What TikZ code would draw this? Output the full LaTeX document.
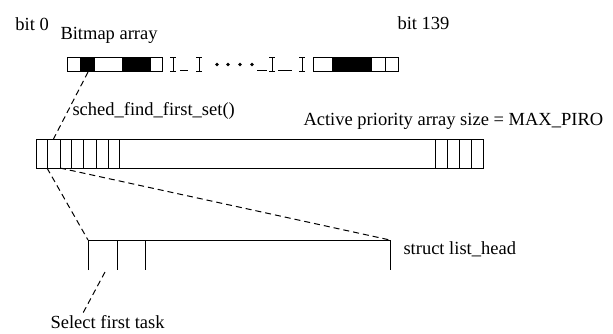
\documentclass[tikz,border=0pt]{standalone}
\usepackage{fontspec}
\setmainfont{Liberation Serif}
\begin{document}
\begin{tikzpicture}[x=1pt,y=-1pt,line width=1pt,
  lbl/.style={font=\fontsize{18.5}{20}\selectfont,inner sep=0pt,anchor=base west},
  lead/.style={dash pattern=on 6pt off 4pt},
  blk/.style={fill=black}]
\useasboundingbox (0,0) rectangle (613,333);
% ---- bitmap array ----
\draw (67,57) rectangle (162,71.5);
\fill[blk] (80,57) rectangle (95,71.5);
\fill[blk] (122,57) rectangle (150,71.5);
\draw (150,57) -- (150,71.5);
\foreach \x in {173,199,272,302}{
  \draw (\x,57) -- (\x,71.5);
  \draw (\x-3,57) -- (\x+3,57);
  \draw (\x-3,71.5) -- (\x+3,71.5);
}
\foreach \a/\b in {180/188,257/267,278/292}{
  \draw (\a,70.5) -- (\b,70.5);
}
\foreach \x in {217,228,240,252}{
  \fill (\x,64.5) circle (1.8);
}
\draw (313,57) rectangle (398,71.5);
\fill[blk] (332,57) rectangle (372,71.5);
\draw (385,57) -- (385,71.5);
\coordinate (bm) at (88,72);
% ---- active priority array ----
\draw (36,139) rectangle (483,168);
\foreach \x in {47,60,71,83,96,108,119,435,447,459,471}{
  \draw (\x,139) -- (\x,168);
}
\coordinate (a2top) at (53.5,139);
\coordinate (a1bot) at (47,168);
\coordinate (a2bot) at (60,168);
% ---- list head ----
\draw (88,270) -- (88,240) -- (390,240) -- (390,270);
\draw (117,240) -- (117,270);
\draw (145,240) -- (145,270);
\coordinate (lhl) at (88,240);
\coordinate (lhr) at (390,240);
\coordinate (lhc) at (105,272);
\coordinate (sel) at (83,313);
% ---- leaders ----
\draw[lead] (bm) -- (a2top);
\draw[lead] (a1bot) -- (lhl);
\draw[lead] (a2bot) -- (lhr);
\draw[lead] (lhc) -- (sel);
% ---- labels ----
\node[lbl] (bit0) at (15,30) {bit 0};
\node[lbl] (bmap) at (60,39) {Bitmap array};
\node[lbl] (bit139) at (397,29) {bit 139};
\node[lbl] (sched) at (72,115) {sched\_find\_first\_set()};
\node[lbl] (act) at (303,125) {Active priority array size = MAX\_PIRO};
\node[lbl] (lh) at (403,254) {struct list\_head};
\node[lbl] (st) at (50,328) {Select first task};
\end{tikzpicture}
\end{document}
